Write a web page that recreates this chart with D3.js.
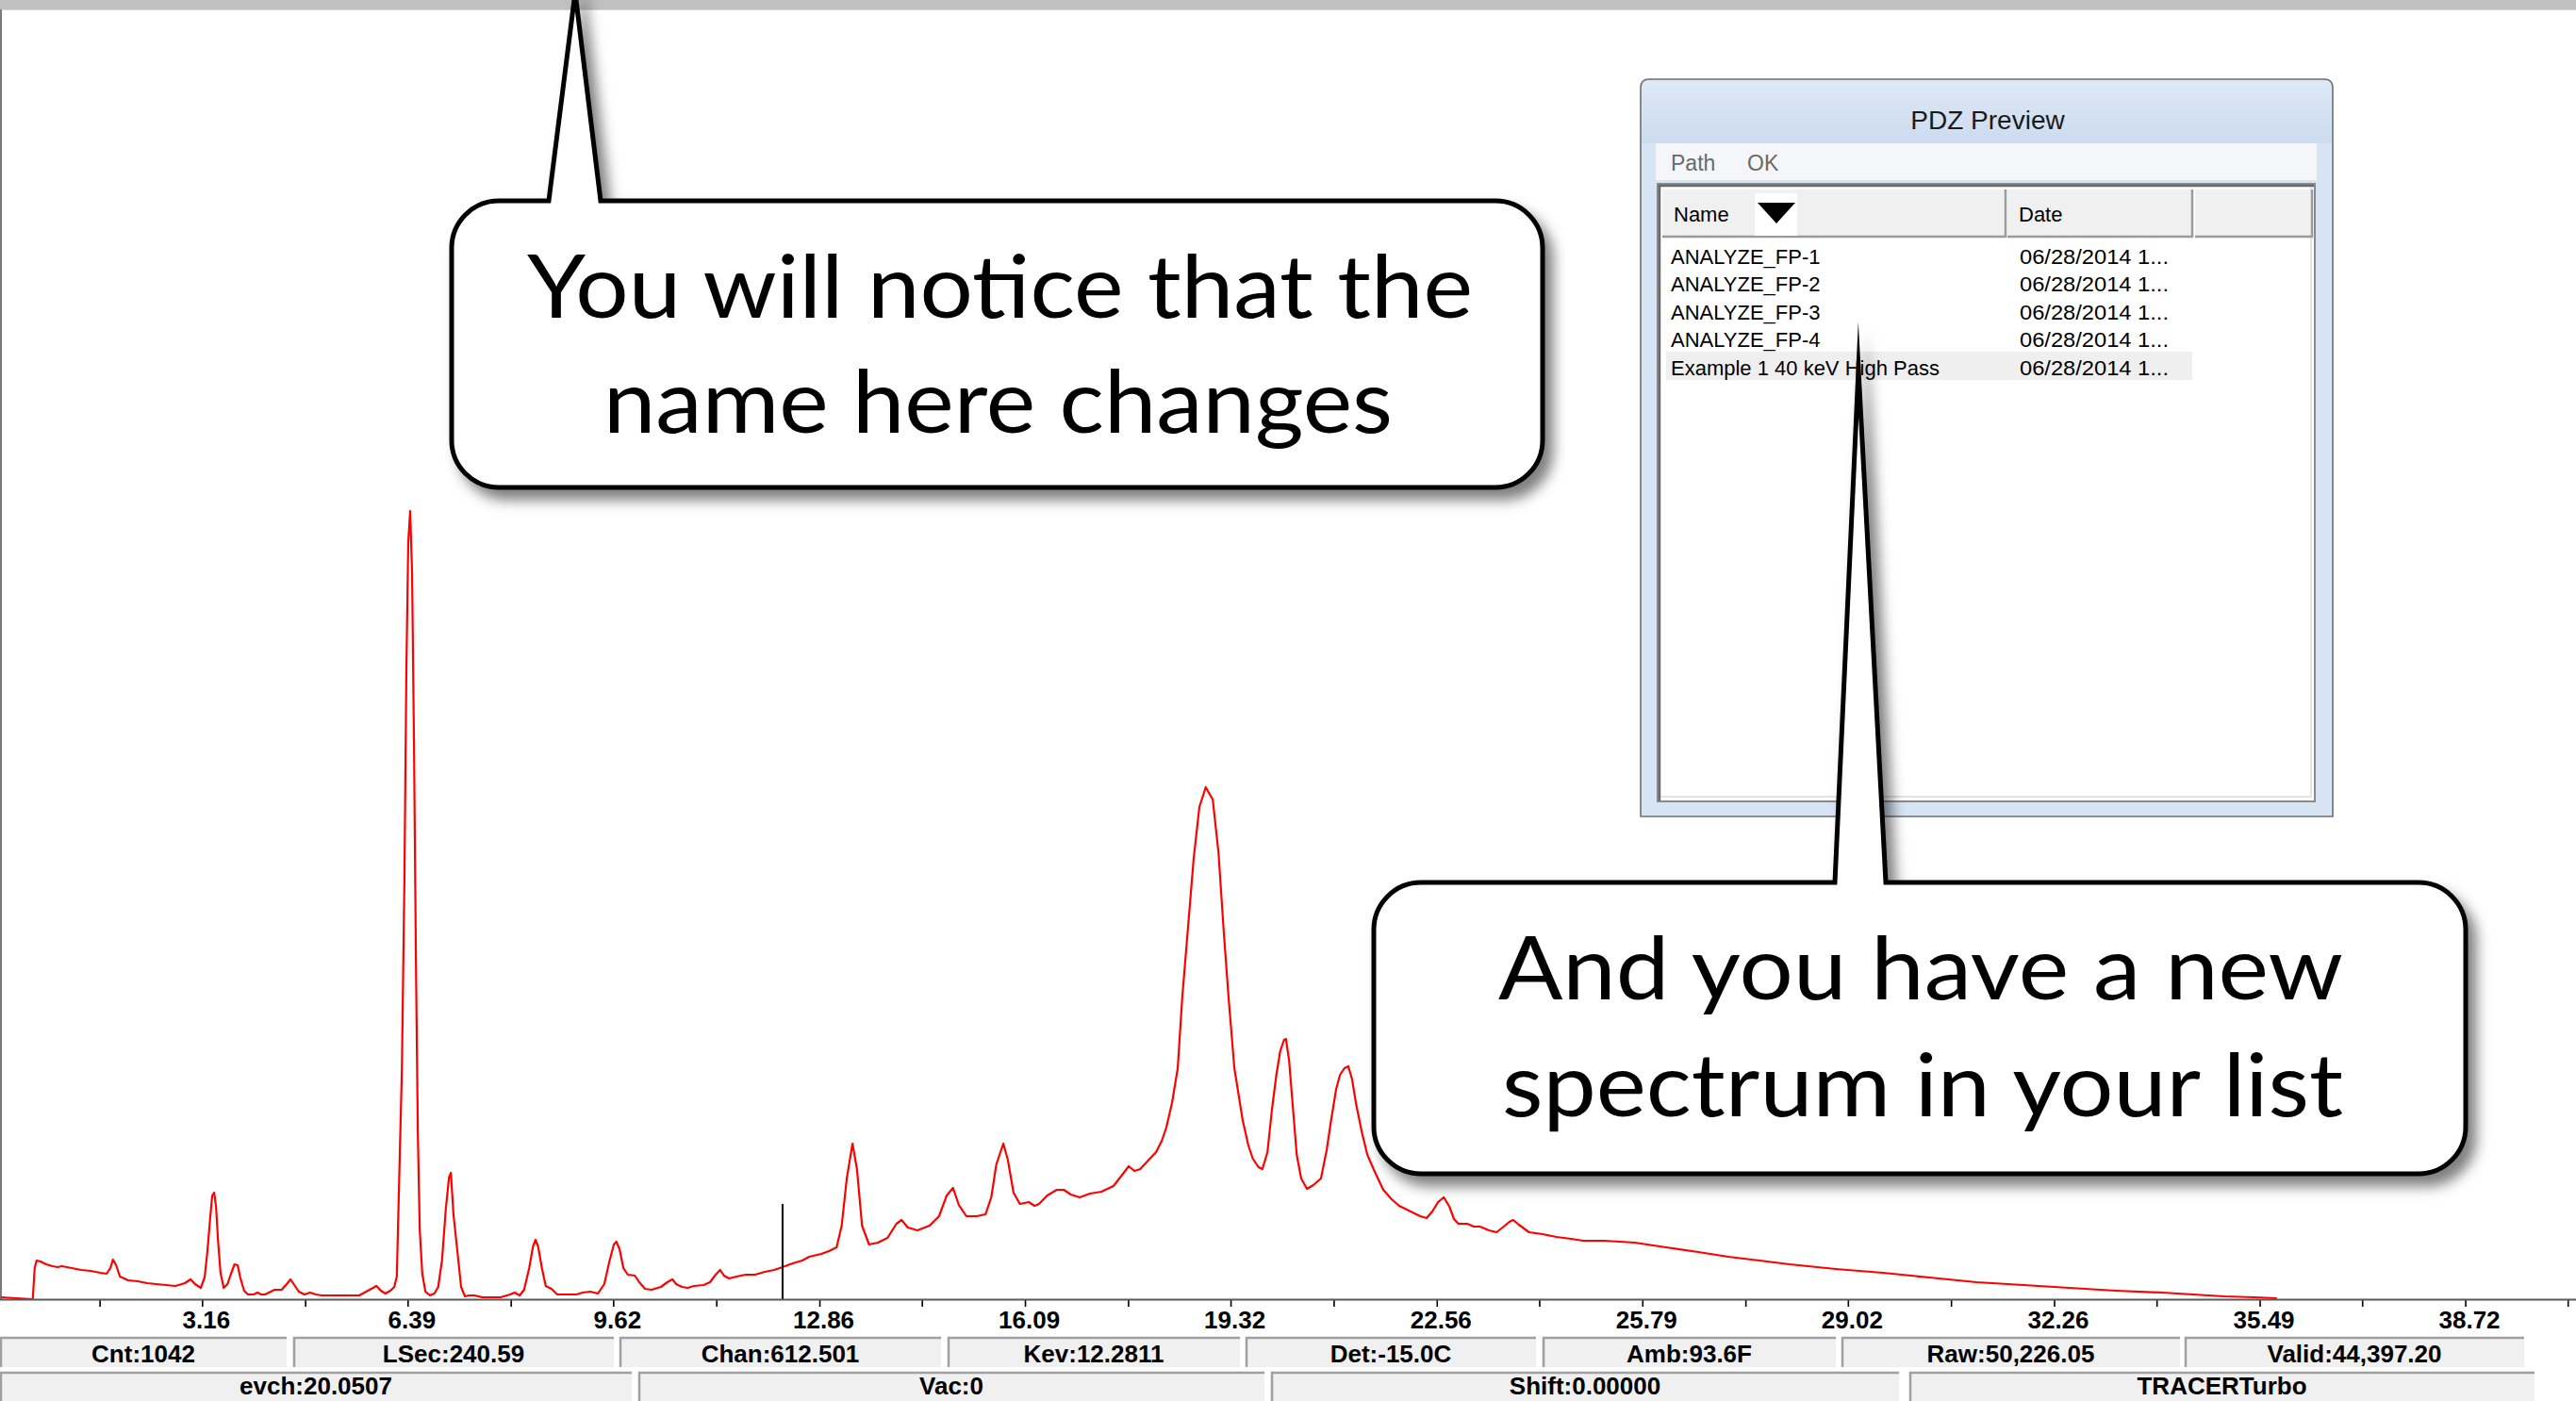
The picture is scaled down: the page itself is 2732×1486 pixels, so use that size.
<!DOCTYPE html>
<html><head><meta charset="utf-8">
<script src="https://cdn.jsdelivr.net/npm/d3@7"></script>
<style>html,body{margin:0;padding:0;background:#fff;overflow:hidden}</style>
</head><body><svg id="c" width="2732" height="1486"></svg>
<script>
// ---------------- DATA ----------------
const energyKeV = [0.00,0.50,0.53,0.56,0.62,0.71,0.81,0.89,0.96,1.11,1.26,1.41,1.56,1.66,1.72,1.76,1.81,1.87,2.00,2.15,2.30,2.44,2.59,2.74,2.89,2.98,3.05,3.14,3.20,3.24,3.29,3.32,3.35,3.38,3.41,3.45,3.50,3.56,3.61,3.67,3.72,3.76,3.82,3.88,3.97,4.03,4.09,4.15,4.30,4.41,4.49,4.55,4.61,4.68,4.77,4.86,4.95,5.04,5.33,5.63,5.82,5.90,5.97,6.04,6.12,6.18,6.22,6.25,6.30,6.34,6.37,6.40,6.43,6.46,6.49,6.52,6.55,6.58,6.62,6.67,6.74,6.81,6.87,6.93,6.99,7.04,7.07,7.11,7.17,7.23,7.29,7.36,7.44,7.56,7.70,7.85,8.00,8.07,8.15,8.22,8.30,8.36,8.40,8.44,8.50,8.56,8.65,8.74,8.89,9.04,9.14,9.26,9.38,9.48,9.56,9.63,9.67,9.72,9.78,9.85,9.96,10.03,10.12,10.22,10.37,10.47,10.55,10.61,10.70,10.79,10.89,11.04,11.14,11.23,11.30,11.36,11.44,11.56,11.70,11.85,12.00,12.15,12.28,12.44,12.59,12.70,12.89,13.01,13.13,13.21,13.29,13.38,13.45,13.53,13.64,13.78,13.93,14.07,14.15,14.25,14.40,14.59,14.74,14.86,14.96,15.05,15.17,15.33,15.47,15.56,15.64,15.75,15.82,15.91,16.01,16.15,16.24,16.31,16.44,16.59,16.70,16.81,16.95,17.11,17.29,17.48,17.63,17.72,17.81,17.90,18.01,18.15,18.24,18.31,18.40,18.49,18.56,18.65,18.74,18.83,18.93,19.04,19.13,19.21,19.29,19.38,19.51,19.60,19.67,19.76,19.82,19.90,19.97,20.04,20.10,20.16,20.19,20.24,20.30,20.36,20.43,20.52,20.62,20.74,20.83,20.90,20.98,21.04,21.11,21.17,21.23,21.29,21.38,21.47,21.60,21.72,21.85,21.97,22.15,22.30,22.40,22.49,22.58,22.67,22.76,22.83,22.90,23.04,23.14,23.24,23.38,23.50,23.63,23.70,23.76,23.85,24.01,24.22,24.44,24.67,24.86,25.19,25.67,26.16,26.67,27.14,27.63,28.10,28.83,29.57,30.30,31.04,31.78,32.50,33.23,33.96,34.44,34.93,35.41,35.76];
const counts = [64,0,1056,1312,1280,1184,1120,1088,1120,1056,992,960,896,864,1056,1344,1152,768,640,608,544,512,480,448,544,672,512,384,736,1536,2816,3520,3616,3136,2016,896,384,512,832,1184,1152,736,288,160,160,224,160,160,320,320,512,672,480,256,160,224,160,128,128,128,352,448,288,192,288,416,768,3424,7808,14368,21312,25696,26752,24640,18848,11584,5696,2368,864,256,128,192,416,1312,3072,4128,4288,2880,1664,416,96,128,128,64,64,64,160,224,128,320,1056,1792,2016,1792,1056,448,352,160,160,160,224,256,192,512,1280,1856,1952,1696,1056,832,800,576,352,320,416,576,672,512,416,384,448,480,576,832,992,800,704,768,832,832,928,992,1088,1216,1312,1440,1536,1632,1760,2496,4096,5280,4416,2496,1856,1920,2080,2560,2688,2432,2336,2496,2816,3520,3776,3200,2816,2816,2880,3456,4576,5280,4736,3616,3232,3296,3168,3232,3520,3712,3712,3552,3456,3584,3648,3840,4256,4512,4352,4416,4672,4992,5376,5824,6656,7840,10208,12576,14944,16704,17376,16960,15168,12576,10208,7840,6080,5216,4768,4480,4416,4992,6432,7616,8416,8800,8832,8096,6496,4896,4096,3744,3872,4096,5056,6080,7136,7616,7840,7904,7456,6656,5696,4896,4256,3712,3392,3168,2976,2816,2752,2976,3296,3456,3136,2720,2560,2560,2464,2464,2336,2272,2496,2624,2688,2528,2272,2208,2112,2048,1984,1984,1920,1760,1600,1440,1312,1184,1024,896,736,576,480,384,288,224,160,96,64,32];
const majorTicks = [3.16,6.39,9.62,12.86,16.09,19.32,22.56,25.79,29.02,32.26,35.49,38.72];
const minorTicks = [1.55,4.78,8.01,11.24,14.47,17.71,20.94,24.17,27.41,30.64,33.87,37.10,40.33];
const cursorKeV = 12.2811;
const cursorMarkerCounts = 3230;
const statusRow1 = ["Cnt:1042","LSec:240.59","Chan:612.501","Kev:12.2811","Det:-15.0C","Amb:93.6F","Raw:50,226.05","Valid:44,397.20"];
const statusRow2 = ["evch:20.0507","Vac:0","Shift:0.00000","TRACERTurbo"];
const fileNames = ["ANALYZE_FP-1","ANALYZE_FP-2","ANALYZE_FP-3","ANALYZE_FP-4","Example 1 40 keV High Pass"];
const fileDates = ["06/28/2014 1...","06/28/2014 1...","06/28/2014 1...","06/28/2014 1...","06/28/2014 1..."];
const listColumns = ["Name","Date",""];
const windowTitle = "PDZ Preview";
const menuItems = ["Path","OK"];
const callout1Lines = ["You will notice that the","name here changes"];
const callout2Lines = ["And you have a new","spectrum in your list"];

// ---------------- LAYOUT ----------------
const W = 2732, H = 1486;
const yBase = 1378, yTop = 12;
const svg = d3.select("#c");
const x = d3.scaleLinear().domain([0, 40.46]).range([1, W]);
const y = d3.scaleLinear().domain([0, 43712]).range([yBase, yTop]);
const uiFont = "'Liberation Sans', Arial, sans-serif";

const defs = svg.append("defs");
const f = defs.append("filter").attr("id","shadow").attr("x","-10%").attr("y","-10%").attr("width","125%").attr("height","130%");
f.append("feDropShadow").attr("dx",9).attr("dy",11).attr("stdDeviation",7).attr("flood-color","#000").attr("flood-opacity",0.5);
const tg = defs.append("linearGradient").attr("id","titleGrad").attr("x1",0).attr("y1",0).attr("x2",0).attr("y2",1);
tg.append("stop").attr("offset","0%").attr("stop-color","#dfe9f6");
tg.append("stop").attr("offset","100%").attr("stop-color","#cbdbef");
defs.append("clipPath").attr("id","plotClip").append("rect").attr("x",0).attr("y",yTop).attr("width",W).attr("height",yBase-yTop);

// background
svg.append("rect").attr("width",W).attr("height",H).attr("fill","#fff");
// top grey bar & left border
svg.append("rect").attr("x",0).attr("y",0).attr("width",W).attr("height",10).attr("fill","#c0c0c0");
svg.append("line").attr("x1",0).attr("x2",W).attr("y1",10.5).attr("y2",10.5).attr("stroke","#d8d8d8").attr("stroke-width",1);
svg.append("rect").attr("x",0).attr("y",10).attr("width",2).attr("height",yBase-10).attr("fill","#7a7a7a");

// spectrum
const pts = energyKeV.map((e,i)=>[e,counts[i]]);
svg.append("path").attr("clip-path","url(#plotClip)")
  .attr("d", d3.line().x(d=>x(d[0])).y(d=>y(d[1]))(pts))
  .attr("fill","none").attr("stroke","#ff0000").attr("stroke-width",2.2).attr("stroke-linejoin","round");

// cursor
svg.append("line").attr("x1",x(cursorKeV)).attr("x2",x(cursorKeV)).attr("y1",y(0)).attr("y2",y(cursorMarkerCounts))
  .attr("stroke","#000").attr("stroke-width",2);

// axes
const gMin = svg.append("g").attr("transform",`translate(0,${yBase})`)
  .call(d3.axisBottom(x).tickValues(minorTicks).tickSize(8).tickSizeOuter(0).tickFormat(""));
gMin.select(".domain").remove();
const gMaj = svg.append("g").attr("transform",`translate(0,${yBase})`)
  .call(d3.axisBottom(x).tickValues(majorTicks).tickSize(8).tickSizeOuter(0).tickFormat(d=>d.toFixed(2)));
gMaj.select(".domain").remove();
svg.append("line").attr("x1",0).attr("x2",W).attr("y1",yBase+0.5).attr("y2",yBase+0.5).attr("stroke","#5a5a5a").attr("stroke-width",2);
svg.selectAll(".tick line").attr("stroke","#000").attr("stroke-width",1.6);
gMaj.selectAll(".tick text").attr("y",31).attr("dy",null).attr("dx",4)
  .attr("font-family",uiFont).attr("font-weight","bold").attr("font-size",26).attr("fill","#000");

// status bar
const row1Boxes = [[0,304],[311,651],[657,998],[1005,1315],[1321,1629],[1636,1947],[1953,2312],[2317,2677]];
const row2Boxes = [[0,670],[677,1341],[1348,2014],[2025,2688]];
function statusRow(labels, boxes, y0, y1, base){
  const g = svg.append("g");
  const cells = g.selectAll("g").data(labels).join("g");
  cells.append("rect").attr("x",(d,i)=>boxes[i][0]).attr("y",y0).attr("width",(d,i)=>boxes[i][1]-boxes[i][0]).attr("height",y1-y0).attr("fill","#f0f0f0");
  cells.append("path").attr("d",(d,i)=>`M${boxes[i][0]+1},${y1}V${y0+1}H${boxes[i][1]}`).attr("fill","none").attr("stroke","#a0a0a0").attr("stroke-width",2.5);
  cells.append("text").attr("x",(d,i)=>(boxes[i][0]+boxes[i][1])/2).attr("y",base).attr("text-anchor","middle")
    .attr("font-family",uiFont).attr("font-weight","bold").attr("font-size",26).attr("fill","#000").text(d=>d);
}
statusRow(statusRow1,row1Boxes,1418,1450,1445);
statusRow(statusRow2,row2Boxes,1455,1488,1479);

// PDZ Preview window
const win = svg.append("g");
const wx0=1740, wx1=2474, wy0=84, wy1=866, wr=9;
win.append("path").attr("d",`M${wx0},${wy1}V${wy0+wr}Q${wx0},${wy0} ${wx0+wr},${wy0}H${wx1-wr}Q${wx1},${wy0} ${wx1},${wy0+wr}V${wy1}Z`)
  .attr("fill","#d7e4f3").attr("stroke","#6f6f6f").attr("stroke-width",1.6);
win.append("path").attr("d",`M${wx0+1.5},152V${wy0+wr}Q${wx0+1.5},${wy0+1.5} ${wx0+wr},${wy0+1.5}H${wx1-wr}Q${wx1-1.5},${wy0+1.5} ${wx1-1.5},${wy0+wr}V152Z`)
  .attr("fill","url(#titleGrad)");
win.append("text").attr("x",2108).attr("y",137).attr("text-anchor","middle").attr("font-family",uiFont).attr("font-size",28)
  .attr("fill","#1a1a1a").text(windowTitle);
win.append("rect").attr("x",1756).attr("y",152).attr("width",701).attr("height",39).attr("fill","#f4f6f9");
win.selectAll("text.menu").data(menuItems).join("text").attr("class","menu")
  .attr("x",(d,i)=>[1772,1853][i]).attr("y",181).attr("font-family",uiFont).attr("font-size",23).attr("fill","#6a6a6a").text(d=>d);
// list box
win.append("rect").attr("x",1758).attr("y",195).attr("width",697).attr("height",655).attr("fill","#fff").attr("stroke","#8a8a8a").attr("stroke-width",2);
win.append("path").attr("d","M1760,849V197H2454").attr("fill","none").attr("stroke","#6a6a6a").attr("stroke-width",2.5);
win.append("path").attr("d","M1762,845H2451V199").attr("fill","none").attr("stroke","#e3e3e3").attr("stroke-width",2);
const colEdges = [[1763,2127],[2129,2325],[2328,2452]];
const hdr = win.selectAll("g.hdr").data(listColumns).join("g").attr("class","hdr");
hdr.append("rect").attr("x",(d,i)=>colEdges[i][0]).attr("y",201).attr("width",(d,i)=>colEdges[i][1]-colEdges[i][0]).attr("height",51).attr("fill","#f0f0f0");
hdr.append("path").attr("d",(d,i)=>`M${colEdges[i][0]},251H${colEdges[i][1]}V201`).attr("fill","none").attr("stroke","#9b9b9b").attr("stroke-width",2.5);
hdr.append("text").attr("x",(d,i)=>colEdges[i][0]+12).attr("y",235).attr("font-family",uiFont).attr("font-size",22).attr("fill","#000").text(d=>d);
win.append("rect").attr("x",1861).attr("y",205).attr("width",45).attr("height",45).attr("fill","#fff");
win.append("path").attr("d","M1864,215H1904L1884,237Z").attr("fill","#000");
// rows
const rowBase = [280,309,339,368,398];
win.append("rect").attr("x",1767).attr("y",373).attr("width",558).attr("height",30).attr("fill","#efefef");
win.selectAll("text.fname").data(fileNames).join("text").attr("class","fname")
  .attr("x",1772).attr("y",(d,i)=>rowBase[i]).attr("font-family",uiFont).attr("font-size",22).attr("fill","#000").text(d=>d);
win.selectAll("text.fdate").data(fileDates).join("text").attr("class","fdate")
  .attr("x",2142).attr("y",(d,i)=>rowBase[i]).attr("font-family",uiFont).attr("font-size",22).attr("fill","#000")
  .attr("textLength",158).attr("lengthAdjust","spacingAndGlyphs").text(d=>d);

// callouts
const callouts = [
  {x0:479,y0:213,x1:1636,y1:517,r:50,bl:582,br:637,ax:610,ay:-8,lines:callout1Lines,
   pos:[{x:559,b:337,w:1003},{x:640,b:459,w:837}]},
  {x0:1457,y0:936,x1:2615,y1:1245,r:50,bl:1946,br:2000,ax:1971,ay:392,lines:callout2Lines,
   pos:[{x:1589,b:1060,w:896},{x:1593,b:1184,w:892}]}
];
callouts.forEach(c=>{
  const g = svg.append("g");
  const d = `M${c.bl},${c.y0}L${c.ax},${c.ay}L${c.br},${c.y0}H${c.x1-c.r}A${c.r},${c.r} 0 0 1 ${c.x1},${c.y0+c.r}`+
    `V${c.y1-c.r}A${c.r},${c.r} 0 0 1 ${c.x1-c.r},${c.y1}H${c.x0+c.r}A${c.r},${c.r} 0 0 1 ${c.x0},${c.y1-c.r}`+
    `V${c.y0+c.r}A${c.r},${c.r} 0 0 1 ${c.x0+c.r},${c.y0}Z`;
  g.append("path").attr("d",d).attr("fill","#fff").attr("stroke","#000").attr("stroke-width",5)
    .attr("stroke-linejoin","miter").attr("stroke-miterlimit",40).attr("filter","url(#shadow)");
  g.selectAll("text").data(c.lines).join("text")
    .attr("x",(t,i)=>c.pos[i].x).attr("y",(t,i)=>c.pos[i].b)
    .attr("textLength",(t,i)=>c.pos[i].w).attr("lengthAdjust","spacingAndGlyphs")
    .attr("font-family","Lato, 'Open Sans', sans-serif").attr("font-size",94).attr("fill","#000").text(t=>t);
});
</script></body></html>
